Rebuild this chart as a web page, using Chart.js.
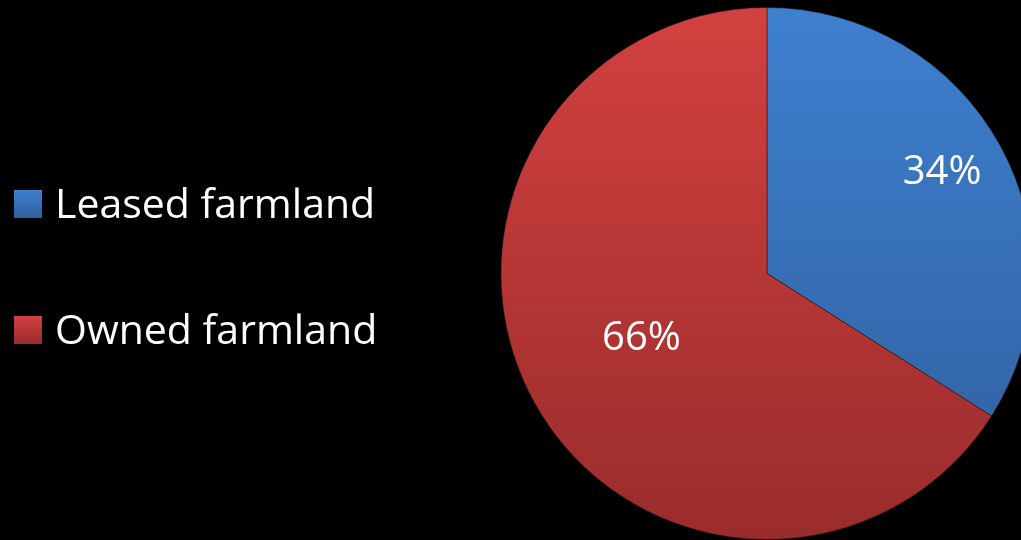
<!DOCTYPE html>
<html>
<head>
<meta charset="utf-8">
<script src="https://cdn.jsdelivr.net/npm/chart.js@4.4.1/dist/chart.umd.min.js"></script>
<style>
  html, body { margin: 0; padding: 0; background: #000; overflow: hidden; }
  .wrap { position: relative; width: 1040px; height: 540px; }
</style>
</head>
<body>
<div class="wrap"><canvas id="pie"></canvas></div>
<script>
// 数据
const labels = ['Leased farmland', 'Owned farmland'];
const shares = [34, 66];

// 渐变色（上 -> 下）
const topColors = ['#3e80cf', '#d24140'];
const bottomColors = ['#2f5e9c', '#992c2b'];

function gradientFor(ctx) {
    const chart = ctx.chart;
    const area = chart.chartArea;
    if (!area) return topColors[ctx.dataIndex];
    const g = chart.ctx.createLinearGradient(0, area.top, 0, area.bottom);
    g.addColorStop(0, topColors[ctx.dataIndex]);
    g.addColorStop(1, bottomColors[ctx.dataIndex]);
    return g;
}

// 百分比标签
const labelFactor = [0.76, 0.53];
const sliceLabels = {
    id: 'sliceLabels',
    afterDatasetsDraw(chart) {
        const c = chart.ctx;
        const meta = chart.getDatasetMeta(0);
        c.save();
        c.fillStyle = '#fff';
        c.font = '40px "Open Sans"';
        c.textAlign = 'center';
        c.textBaseline = 'middle';
        meta.data.forEach((arc, i) => {
            const p = arc.getProps(['x', 'y', 'startAngle', 'endAngle', 'outerRadius'], true);
            const mid = (p.startAngle + p.endAngle) / 2;
            const r = p.outerRadius * labelFactor[i];
            c.fillText(shares[i] + '%', p.x + Math.cos(mid) * r - 2, p.y + Math.sin(mid) * r - 3);
        });
        c.restore();
    }
};

// 左侧图例
const sideLegend = {
    id: 'sideLegend',
    afterDraw(chart) {
        const c = chart.ctx;
        const baselines = [218, 344];
        c.save();
        c.font = '41px "Open Sans"';
        c.textBaseline = 'alphabetic';
        labels.forEach((name, i) => {
            const b = baselines[i];
            const g = c.createLinearGradient(0, b - 28, 0, b);
            g.addColorStop(0, topColors[i]);
            g.addColorStop(1, bottomColors[i]);
            c.fillStyle = g;
            c.fillRect(14, b - 28, 28, 28);
            c.fillStyle = '#fff';
            c.fillText(name, 55, b);
        });
        c.restore();
    }
};

new Chart(document.getElementById('pie'), {
    type: 'pie',
    data: {
        labels: labels,
        datasets: [{
            data: shares,
            backgroundColor: gradientFor,
            borderColor: 'rgba(40,20,20,0.55)',
            borderWidth: 1
        }]
    },
    options: {
        responsive: true,
        maintainAspectRatio: false,
        animation: false,
        layout: {
            padding: { left: 499, right: 5, top: 7, bottom: 0 }
        },
        plugins: {
            legend: { display: false },
            tooltip: { enabled: false }
        }
    },
    plugins: [sliceLabels, sideLegend]
});
</script>
</body>
</html>
